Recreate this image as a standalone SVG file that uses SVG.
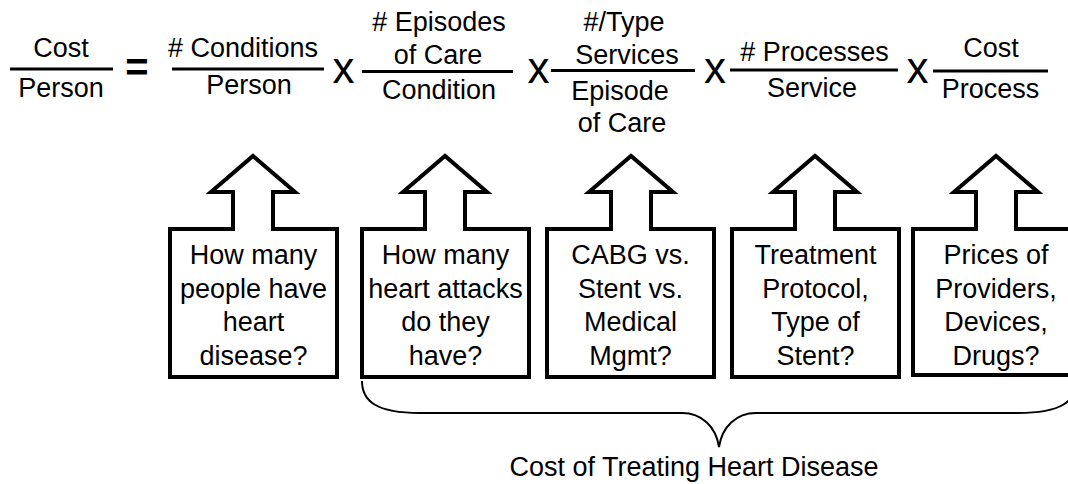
<svg xmlns="http://www.w3.org/2000/svg" width="1068" height="484" viewBox="0 0 1068 484">
  <style>
    text { font-family: "Liberation Sans", Arial, sans-serif; font-size: 27px; fill: #000; text-anchor: middle; }
    .op { font-size: 44px; }
    .eq { font-size: 40px; font-weight: bold; }
    .bar { stroke: #000; stroke-width: 3; fill: none; }
    .callout { fill: #fff; stroke: #000; stroke-width: 4; stroke-linejoin: miter; }
    .brace { fill: none; stroke: #000; stroke-width: 2; }
  </style>
  <rect width="1068" height="484" fill="#fff"/>

  <!-- cost equation -->
  <g id="term-cost-person">
    <text x="61" y="57">Cost</text>
    <line class="bar" x1="10" y1="69" x2="113" y2="69"/>
    <text x="61" y="97">Person</text>
  </g>
  <g id="equals"><text class="eq" x="137" y="81">=</text></g>
  <g id="term-conditions">
    <text x="243" y="57"># Conditions</text>
    <line class="bar" x1="172" y1="69" x2="324" y2="69"/>
    <text x="249" y="94">Person</text>
  </g>
  <g id="times-1"><text class="op" x="343.5" y="83">x</text></g>
  <g id="term-episodes">
    <text x="439" y="30.5"># Episodes</text>
    <text x="438" y="64">of Care</text>
    <line class="bar" x1="362" y1="71.5" x2="513" y2="71.5"/>
    <text x="439" y="98.5">Condition</text>
  </g>
  <g id="times-2"><text class="op" x="538.5" y="83">x</text></g>
  <g id="term-services">
    <text x="624" y="30.5">#/Type</text>
    <text x="627" y="64">Services</text>
    <line class="bar" x1="551" y1="70.5" x2="695" y2="70.5"/>
    <text x="620" y="99.5">Episode</text>
    <text x="622" y="132">of Care</text>
  </g>
  <g id="times-3"><text class="op" x="715" y="83">x</text></g>
  <g id="term-processes">
    <text x="814.5" y="60.5"># Processes</text>
    <line class="bar" x1="730" y1="70" x2="898" y2="70"/>
    <text x="812" y="96.5">Service</text>
  </g>
  <g id="times-4"><text class="op" x="917.5" y="83">x</text></g>
  <g id="term-cost-process">
    <text x="991" y="56.5">Cost</text>
    <line class="bar" x1="933" y1="71" x2="1048" y2="71"/>
    <text x="990.5" y="98">Process</text>
  </g>

  <!-- up-arrow callouts -->
  <g id="callout-people">
    <path class="callout" d="M170,377 V229 H233 V192 H211 L253,156 L295,192 H273 V229 H337 V377 Z"/>
    <text x="253.5" y="264">How many</text>
    <text x="253.5" y="297.5">people have</text>
    <text x="253.5" y="331">heart</text>
    <text x="253.5" y="364.5">disease?</text>
  </g>
  <g id="callout-attacks">
    <path class="callout" d="M362,377 V229 H425 V192 H403 L445,156 L487,192 H465 V229 H529 V377 Z"/>
    <text x="445.5" y="264">How many</text>
    <text x="445.5" y="297.5">heart attacks</text>
    <text x="445.5" y="331">do they</text>
    <text x="445.5" y="364.5">have?</text>
  </g>
  <g id="callout-procedure">
    <path class="callout" d="M547,377 V229 H611 V192 H589 L631,156 L673,192 H651 V229 H714 V377 Z"/>
    <text x="630.5" y="264">CABG vs.</text>
    <text x="630.5" y="297.5">Stent vs.</text>
    <text x="630.5" y="331">Medical</text>
    <text x="630.5" y="364.5">Mgmt?</text>
  </g>
  <g id="callout-protocol">
    <path class="callout" d="M732,377 V229 H795 V192 H773 L815,156 L857,192 H835 V229 H899 V377 Z"/>
    <text x="815.5" y="264">Treatment</text>
    <text x="815.5" y="297.5">Protocol,</text>
    <text x="815.5" y="331">Type of</text>
    <text x="815.5" y="364.5">Stent?</text>
  </g>
  <g id="callout-prices">
    <path class="callout" d="M913,375 V229 H976 V192 H954 L996,156 L1038,192 H1016 V229 H1079 V375 Z"/>
    <text x="996" y="264">Prices of</text>
    <text x="996" y="297.5">Providers,</text>
    <text x="996" y="331">Devices,</text>
    <text x="996" y="364.5">Drugs?</text>
  </g>

  <!-- brace spanning the treatment factors -->
  <g id="connectors">
    <path class="brace" d="M362,381 C362,401 376,413 420,413 L682,413 C702,413 716,427 719,447 C722,427 736,413 756,413 L1018,413 C1062,413 1076,401 1076,381"/>
  </g>
  <g id="label-total">
    <text x="694" y="476">Cost of Treating Heart Disease</text>
  </g>
</svg>
